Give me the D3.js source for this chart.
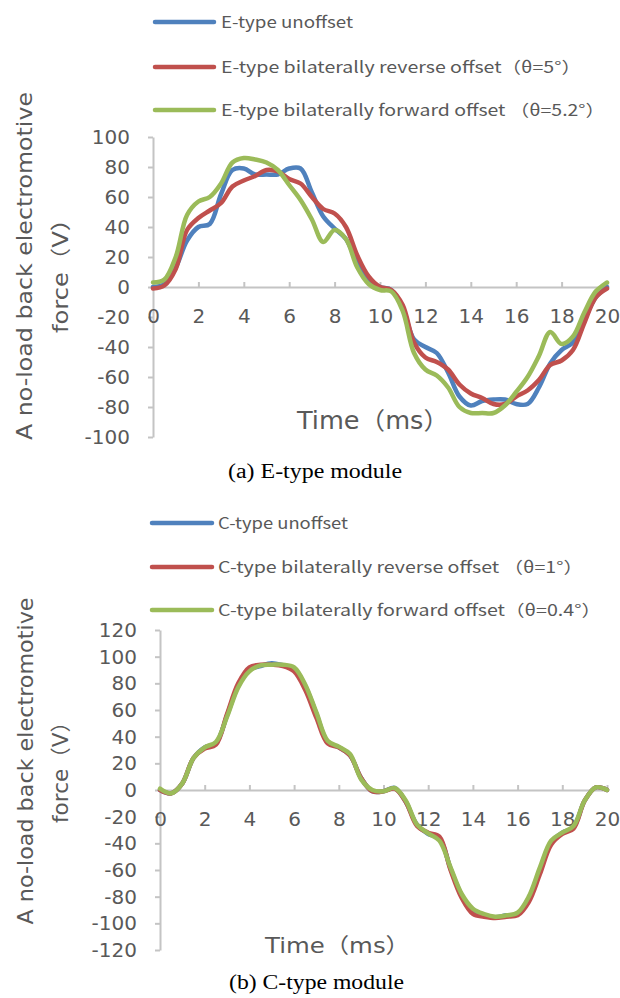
<!DOCTYPE html>
<html><head><meta charset="utf-8">
<script src="https://cdn.jsdelivr.net/npm/d3@7/dist/d3.min.js"></script>
<style>body{margin:0;background:#fff}svg{display:block}</style>
</head><body>
<svg id="c" width="620" height="998"></svg>
<script>
// ---------- data ----------
const timeMs = [0,0.5,1,1.5,2,2.5,3,3.5,4,4.5,5,5.5,6,6.5,7,7.5,8,8.5,9,9.5,10,
                10.5,11,11.5,12,12.5,13,13.5,14,14.5,15,15.5,16,16.5,17,17.5,18,18.5,19,19.5,20];
const xTicks = [0,2,4,6,8,10,12,14,16,18,20];

const eTypeNames = ["E-type unoffset",
                    "E-type bilaterally reverse offset（θ=5°）",
                    "E-type bilaterally forward offset （θ=5.2°）"];
const eUnoffset = [0,2,13,31,40,42,62,78,79,75,75,75,79,79,63,47,39,32,16,5,
                   0,-2,-14,-35,-40,-44,-57,-73,-79,-76,-75,-75,-78,-78,-67,-51,-42,-37,-22,-7,0];
const eReverse  = [-1,1,12,38,46,51,56,67,71,74,78,77,72,69,60,52,49,40,21,7,
                   0,-2,-12,-37,-47,-50,-55,-65,-71,-74,-78,-78,-73,-69,-62,-52,-49,-42,-24,-7,-1];
const eForward  = [3,5,20,48,57,60,69,83,86,85,83,78,68,58,45,30,38,32,13,2,
                   -2,-3,-16,-44,-55,-59,-67,-80,-84,-84,-84,-79,-70,-60,-46,-30,-38,-33,-17,-3,3];
const yTicksE = [-100,-80,-60,-40,-20,0,20,40,60,80,100];

const cTypeNames = ["C-type unoffset",
                    "C-type bilaterally reverse offset （θ=1°）",
                    "C-type bilaterally forward offset（θ=0.4°）"];
const cUnoffset = [0,-2.5,5,24,32,35,56,78,90,93,95,93.5,91,78,57,36,32,26,9,-1,
                   -1,1.5,-9,-26,-33,-36,-59,-79,-91,-94,-95.5,-94,-93,-81,-60,-39,-32,-28,-8,2,0];
const cReverse  = [0,-2.5,5,24,31,34,57,80,92,94,94,93,89,75,54,35,32,26,9,-1,
                   -1,1,-9,-27,-32,-35,-60,-81,-93,-95,-96,-95,-94,-84,-63,-41,-33,-29,-8,2,0];
const cForward  = [1,-2.5,5,24,32,36,55,77,89,93.5,94,94,92,79,58,37,32.5,27,8,0,
                   -1,1.5,-8,-26,-32.5,-38,-58,-78,-89,-93,-95,-94,-92,-80,-58,-38,-32,-27,-8,2,0];
const yTicksC = [-120,-100,-80,-60,-40,-20,0,20,40,60,80,100,120];

const seriesColors = ["#4F81BD","#C0504D","#9BBB59"];

// ---------- layout ----------
const panels = [
  { names: eTypeNames, series: [eUnoffset,eReverse,eForward], yTicks: yTicksE, yDomain:[-100,100],
    xRange:[153,607], yRange:[437,137],
    legend:{x1:155,x2:214,tx:221,ys:[22,67,110],lens:[132,360,384]},
    yTitle:{l1:{x:32,y:266,len:348}, l2:{x:68,y:270,len:126}, size:20.5},
    xTitle:{x:297,y:429,len:152,size:24},
    caption:{text:"(a) E-type module",x:228,y:478,len:174} },
  { names: cTypeNames, series: [cUnoffset,cReverse,cForward], yTicks: yTicksC, yDomain:[-120,120],
    xRange:[160,607], yRange:[950,630],
    legend:{x1:152,x2:212,tx:218,ys:[523,567,610],lens:[130,365,383]},
    yTitle:{l1:{x:33,y:761,len:327}, l2:{x:68,y:767,len:112}, size:20.5},
    xTitle:{x:265,y:953,len:145,size:21},
    caption:{text:"(b) C-type module",x:229,y:989,len:175} }
];

const svg = d3.select("#c");
const gray = "#595959";
const axisColor = "#C4C4C4";
const fmt = d => String(d);

panels.forEach(p => {
  const g = svg.append("g");
  const x = d3.scaleLinear().domain([0,20]).range(p.xRange);
  const y = d3.scaleLinear().domain(p.yDomain).range(p.yRange);

  // y axis
  const ya = g.append("g").attr("transform",`translate(${p.xRange[0]},0)`)
    .call(d3.axisLeft(y).tickValues(p.yTicks).tickFormat(fmt).tickSize(5).tickSizeOuter(0).tickPadding(18));
  // x axis at zero
  const xa = g.append("g").attr("transform",`translate(0,${y(0)})`)
    .call(d3.axisBottom(x).tickValues(xTicks).tickFormat(fmt).tickSize(-5).tickSizeOuter(0).tickPadding(22));
  [ya,xa].forEach(a=>{
    a.selectAll("path.domain").attr("stroke",axisColor).attr("stroke-width",2);
    a.selectAll(".tick line").attr("stroke",axisColor).attr("stroke-width",2);
    a.selectAll(".tick text").attr("fill",gray)
      .style("font-family","'DejaVu Sans',sans-serif").style("font-size","20px");
  });
  xa.selectAll(".tick line").filter(d=>d===0).remove();

  // lines
  const line = d3.line().x((d,i)=>x(timeMs[i])).y(d=>y(d)).curve(d3.curveCatmullRom.alpha(0.5));
  p.series.forEach((s,i)=>{
    g.append("path").datum(s).attr("d",line).attr("fill","none")
      .attr("stroke",seriesColors[i]).attr("stroke-width",4.5)
      .attr("stroke-linecap","round").attr("stroke-linejoin","round");
  });

  // legend
  p.names.forEach((n,i)=>{
    const ly = p.legend.ys[i];
    g.append("line").attr("x1",p.legend.x1).attr("x2",p.legend.x2).attr("y1",ly).attr("y2",ly)
      .attr("stroke",seriesColors[i]).attr("stroke-width",4.5).attr("stroke-linecap","round");
    g.append("text").attr("x",p.legend.tx).attr("y",ly+6).text(n)
      .attr("fill",gray).style("font-family","'Noto Sans CJK SC','DejaVu Sans',sans-serif")
      .style("font-size","16px")
      .attr("textLength",p.legend.lens[i]).attr("lengthAdjust","spacingAndGlyphs");
  });

  // y title
  const yt = p.yTitle;
  [["A no-load back electromotive",yt.l1],["force（V）",yt.l2]].forEach(([t,o])=>{
    g.append("text").attr("transform",`translate(${o.x},${o.y}) rotate(-90)`)
      .attr("text-anchor","middle").text(t).attr("fill",gray)
      .style("font-family","'DejaVu Sans','Noto Sans CJK SC',sans-serif").style("font-size",yt.size+"px")
      .attr("textLength",o.len).attr("lengthAdjust","spacingAndGlyphs");
  });

  // x title
  g.append("text").attr("x",p.xTitle.x).attr("y",p.xTitle.y).text("Time（ms）")
    .attr("fill",gray).style("font-family","'DejaVu Sans','Noto Sans CJK SC',sans-serif")
    .style("font-size",p.xTitle.size+"px")
    .attr("textLength",p.xTitle.len).attr("lengthAdjust","spacingAndGlyphs");

  // caption
  g.append("text").attr("x",p.caption.x).attr("y",p.caption.y).text(p.caption.text)
    .attr("fill","#000").style("font-family","'Liberation Serif','Times New Roman',serif")
    .style("font-size","20px")
    .attr("textLength",p.caption.len).attr("lengthAdjust","spacingAndGlyphs");
});
</script>
</body></html>
